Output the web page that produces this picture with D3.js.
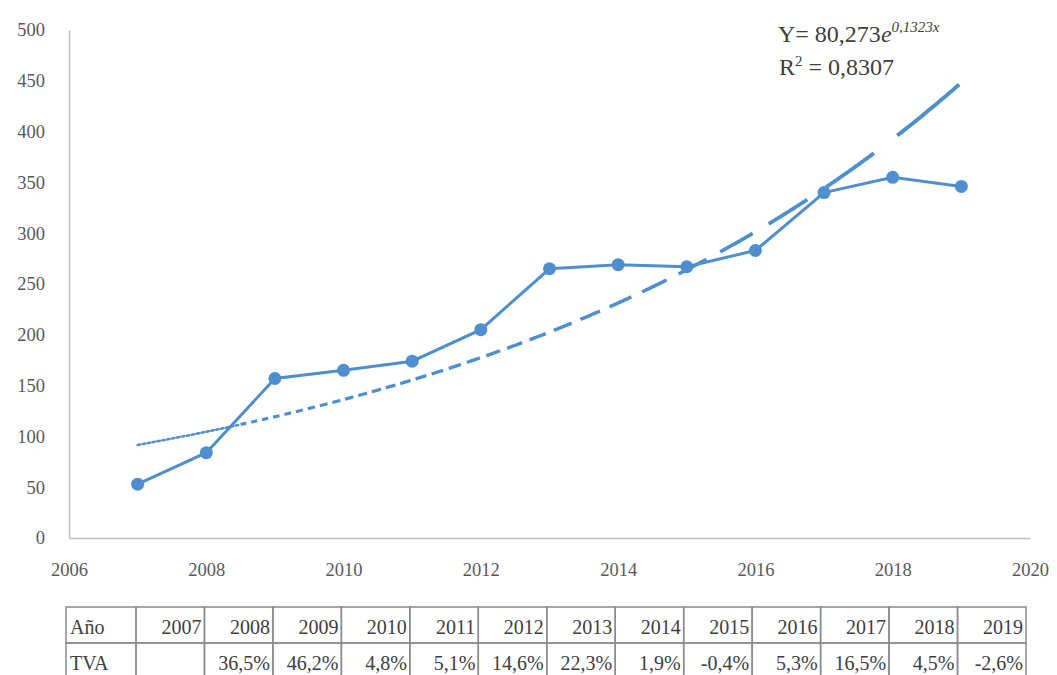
<!DOCTYPE html>
<html><head><meta charset="utf-8">
<script src="https://cdn.jsdelivr.net/npm/d3@7"></script>
<style>html,body{margin:0;padding:0;background:#fff;}svg{display:block;}</style>
</head><body>
<script>
const years = [2007,2008,2009,2010,2011,2012,2013,2014,2015,2016,2017,2018,2019];
const values = [53,84,157,165,174,205,265,269,267,283,340,355,346];
const tva = ["","36,5%","46,2%","4,8%","5,1%","14,6%","22,3%","1,9%","-0,4%","5,3%","16,5%","4,5%","-2,6%"];
const yTicks = [0,50,100,150,200,250,300,350,400,450,500];
const xTicks = [2006,2008,2010,2012,2014,2016,2018,2020];
const trendA = 80.273, trendB = 0.1323; // Y = a·e^(b·t), t = 1 for 2007
const eqText = "Y= 80,273", eqExp = "0,1323x", r2Text = "0,8307";

const W = 1057, H = 675;
const color = "#4f8fd0";
const svg = d3.select("body").append("svg").attr("width", W).attr("height", H);
const x = d3.scaleLinear().domain([2006, 2020]).range([69, 1030]);
const y = d3.scaleLinear().domain([0, 500]).range([538, 30]);

// axes
const gy = svg.append("g").attr("transform", "translate(69,0)")
  .call(d3.axisLeft(y).tickValues(yTicks).tickSize(0).tickPadding(24));
const gx = svg.append("g").attr("transform", "translate(0,538)")
  .call(d3.axisBottom(x).tickValues(xTicks).tickFormat(d3.format("d")).tickSize(0).tickPadding(25));
[gx, gy].forEach(g => {
  g.select(".domain").attr("stroke", "#bfbfbf").attr("stroke-width", 1.5);
  g.selectAll("text").attr("font-family", "Liberation Serif, serif").attr("font-size", 18.5).attr("fill", "#595959");
});

// trend line with progressively longer dashes
const tPts = d3.range(0, 121).map(i => {
  const t = 1 + i * 12 / 120;
  return [x(2006 + t), y(trendA * Math.exp(trendB * t))];
});
const tmp = svg.append("path").attr("d", d3.line()(tPts)).attr("fill", "none").attr("stroke", "none");
const node = tmp.node();
const L = node.getTotalLength();
let s = 0;
const dashG = svg.append("g");
while (s < L) {
  const f = s / L;
  const dotted = f < 0.11;
  const d = dotted ? 2.5 : 4 * Math.exp(3.3 * f);
  const g = dotted ? 2.5 : Math.max(5, 0.5 * d);
  const e = Math.min(L, s + d);
  const pts = [];
  for (let u = s; u <= e; u += 2) { const p = node.getPointAtLength(u); pts.push([p.x, p.y]); }
  const pe = node.getPointAtLength(e); pts.push([pe.x, pe.y]);
  dashG.append("path").attr("d", d3.line()(pts)).attr("fill", "none")
    .attr("stroke", color).attr("stroke-width", dotted ? 2.5 : 3 + 1 * f)
    .attr("stroke-linecap", dotted ? "round" : "butt");
  s = e + g;
}
tmp.remove();

// data line
const line = d3.line().x((d, i) => x(years[i])).y(d => y(d));
svg.append("path").datum(values).attr("d", line).attr("fill", "none")
  .attr("stroke", color).attr("stroke-width", 3);
svg.selectAll("circle.pt").data(values).enter().append("circle")
  .attr("cx", (d, i) => x(years[i])).attr("cy", d => y(d)).attr("r", 6.5).attr("fill", color);

// equation
const eq = svg.append("text").attr("x", 778).attr("y", 42)
  .attr("font-family", "Liberation Serif, serif").attr("font-size", 24).attr("fill", "#404040");
eq.append("tspan").text(eqText);
eq.append("tspan").attr("font-style", "italic").text("e");
eq.append("tspan").attr("font-size", 15).attr("dy", -10).attr("font-style", "italic").text(eqExp);
const r2 = svg.append("text").attr("x", 779).attr("y", 75)
  .attr("font-family", "Liberation Serif, serif").attr("font-size", 24).attr("fill", "#404040");
r2.append("tspan").text("R");
r2.append("tspan").attr("font-size", 15).attr("dy", -9).text("2");
r2.append("tspan").attr("dy", 9).text(" = " + r2Text);

// table
const tX0 = 66, hdrW = 70, colW = (1026 - 136) / years.length;
const rowTop = [607, 643], rowH = 36;
const tg = svg.append("g").attr("font-family", "Liberation Serif, serif").attr("font-size", 20).attr("fill", "#404040");
const rows = [["Año"].concat(years.map(String)), ["TVA"].concat(tva)];
rows.forEach((r, ri) => {
  r.forEach((c, ci) => {
    const cx0 = ci === 0 ? tX0 : 136 + (ci - 1) * colW;
    const w = ci === 0 ? hdrW : colW;
    tg.append("rect").attr("x", cx0).attr("y", rowTop[ri]).attr("width", w).attr("height", rowH)
      .attr("fill", "none").attr("stroke", "#8c8c8c").attr("stroke-width", 1.5);
    tg.append("text").attr("x", ci === 0 ? cx0 + 4 : cx0 + w - 3).attr("y", rowTop[ri] + 27)
      .attr("text-anchor", ci === 0 ? "start" : "end").text(c);
  });
});
</script>
</body></html>
